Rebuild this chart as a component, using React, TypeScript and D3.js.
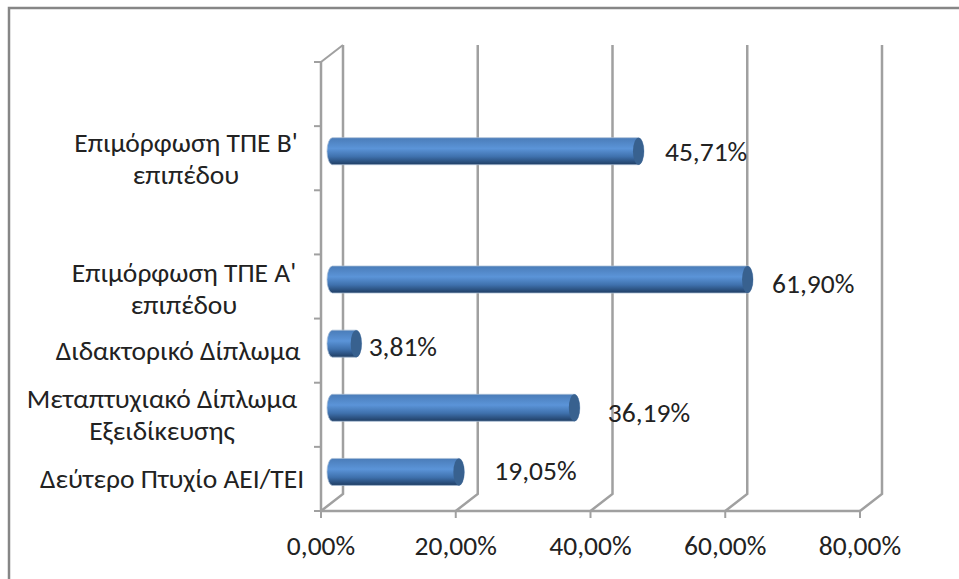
import React from "react";
import * as d3 from "d3";

const categories = ["Δεύτερο Πτυχίο ΑΕΙ/ΤΕΙ", "Μεταπτυχιακό Δίπλωμα Εξειδίκευσης", "Διδακτορικό Δίπλωμα", "Επιμόρφωση ΤΠΕ Α' επιπέδου", "blank1", "Επιμόρφωση ΤΠΕ Β' επιπέδου", "blank2"];
const categoryLines: string[][] = [["Δεύτερο Πτυχίο ΑΕΙ/ΤΕΙ"], ["Μεταπτυχιακό Δίπλωμα", "Εξειδίκευσης"], ["Διδακτορικό Δίπλωμα"], ["Επιμόρφωση ΤΠΕ Α'", "επιπέδου"], [], ["Επιμόρφωση ΤΠΕ Β'", "επιπέδου"], []];
const values = [19.05, 36.19, 3.81, 61.9, null, 45.71, null];
const valueLabels = ["19,05%", "36,19%", "3,81%", "61,90%", "", "45,71%", ""];
const xTicks = [0, 20, 40, 60, 80];
const xTickLabels = ["0,00%", "20,00%", "40,00%", "60,00%", "80,00%"];

// layout offsets
const labelDx = [31, 29, 8, 20, 0, 22, 0];
const labelBase = [8, 14, 12, 13, 0, 10, 0];
const catCx = [172, 162, 178, 184, 0, 186, 0];
const catFirstBase = [16, 0, 16, 2, 0, 1, 0];

const W = 959, H = 579;
const x = d3.scaleLinear().domain([0, 80]).range([321, 860]);
const y = d3.scaleBand().domain(categories.slice().reverse()).range([62, 511]);
const depthX = 22, depthY = 17, barShift = -7;
const wall = "#a0a0a0";
const font = "Carlito, Calibri, 'Open Sans', 'Noto Sans', sans-serif";
const fs = 27.5;

export default function App() {
  const cy = (c: string) => y(c)! + y.bandwidth() / 2 + barShift;
  const ticksY = [...y.domain().map((c) => y(c)!), 511];
  return (
    <svg width={W} height={H} style={{ position: "absolute", left: 0, top: 0, background: "#fff" }} fontFamily={font}>
      <defs>
        <linearGradient id="bar" x1="0" y1="0" x2="0" y2="1">
          <stop offset="0" stopColor="#4a7cb8" />
          <stop offset="0.4" stopColor="#5b94d8" />
          <stop offset="0.7" stopColor="#3f71ad" />
          <stop offset="1" stopColor="#1f3d63" />
        </linearGradient>
      </defs>
      <path d="M9,579V8H959" fill="none" stroke="#868686" strokeWidth={2.5} />
      {xTicks.map((t) => (
        <path key={t} d={d3.line()([[x(t), 511], [x(t) + depthX, 511 - depthY], [x(t) + depthX, 62 - depthY]])!} fill="none" stroke={wall} strokeWidth={2.5} />
      ))}
      <path d={d3.line()([[x(0), 62], [x(0) + depthX, 62 - depthY]])!} fill="none" stroke={wall} strokeWidth={2} />
      <line x1={x(0)} x2={x(0)} y1={62} y2={511} stroke={wall} strokeWidth={2.5} />
      <line x1={x(0)} x2={x(80)} y1={511} y2={511} stroke={wall} strokeWidth={2.5} />
      {ticksY.map((t, i) => (
        <line key={i} x1={x(0) - 7} x2={x(0)} y1={t} y2={t} stroke={wall} strokeWidth={2} />
      ))}
      {xTicks.map((t) => (
        <line key={t} x1={x(t)} x2={x(t)} y1={511} y2={518} stroke={wall} strokeWidth={2} />
      ))}
      {categories.map((c, i) => {
        const v = values[i];
        if (v == null) return null;
        const left = x(0) + 6, right = x(v) + 15, h = 27, t = cy(c) - h / 2, rx = 5.5;
        return (
          <g key={c}>
            <path d={`M${left + rx},${t}L${right - rx},${t}A${rx},${h / 2} 0 0 1 ${right - rx},${t + h}L${left + rx},${t + h}A${rx},${h / 2} 0 0 1 ${left + rx},${t}Z`} fill="url(#bar)" stroke="#a9bdd6" strokeWidth={0.75} />
            <ellipse cx={right - rx} cy={t + h / 2} rx={rx} ry={h / 2} fill="#38618f" />
          </g>
        );
      })}
      {categories.map((c, i) => {
        const v = values[i];
        if (v == null) return null;
        return (
          <text key={c} x={x(v) + 14 + labelDx[i]} y={cy(c) + labelBase[i]} fontSize={fs} fill="#222">{valueLabels[i]}</text>
        );
      })}
      {categories.map((c, i) =>
        categoryLines[i].map((ln, j) => (
          <text key={c + j} x={catCx[i]} y={cy(c) + catFirstBase[i] + j * 32} fontSize={fs} fill="#222" textAnchor="middle">{ln}</text>
        ))
      )}
      {xTicks.map((t, i) => (
        <text key={t} x={x(t)} y={555} fontSize={fs} fill="#222" textAnchor="middle">{xTickLabels[i]}</text>
      ))}
    </svg>
  );
}
